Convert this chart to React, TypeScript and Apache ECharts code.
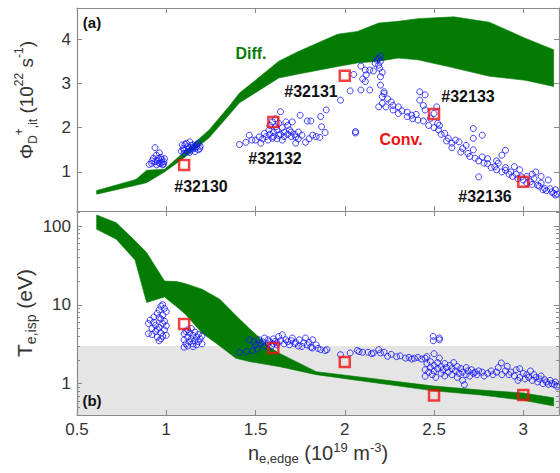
import React, { useEffect, useRef } from "react";
import * as echarts from "echarts";

const FONT = "Liberation Sans, Arial, Helvetica, sans-serif";
const GREEN = "#047c04";
const BLUE = "#1414ff";
const RED = "#ee1111";
const FRAME = "#8a8a8a";
const LABEL = "#333333";

const xTicks = [0.5, 1, 1.5, 2, 2.5, 3];
const xMin = 0.5;
const xMax = 3.2;
const aTicks = [1, 2, 3, 4];
const aMin = 0.12;
const aMax = 4.7;
const bTicks = [1, 10, 100];
const bMinor = [0.5, 0.6, 0.7, 0.8, 0.9, 2, 3, 4, 5, 6, 7, 8, 9, 20, 30, 40, 50, 60, 70, 80, 90, 150];
const bMin = 0.4;
const bMax = 155;
const grayBand = [0.4, 3];

// Panel (a): diffusive band
const aBandX = [0.61, 0.83, 0.89, 0.99, 1.1, 1.24, 1.35, 1.41, 1.5, 1.63, 1.74, 1.96, 2.07, 2.19, 2.3, 2.41, 2.61, 2.81, 3.01, 3.17];
const aBandUp = [0.58, 0.83, 1.04, 1.06, 1.45, 1.95, 2.47, 2.78, 3.07, 3.5, 3.72, 4.11, 4.17, 4.36, 4.4, 4.46, 4.5, 4.38, 4.02, 3.76];
const aBandLo = [0.5, 0.7, 0.76, 1.0, 1.32, 1.77, 2.28, 2.56, 2.79, 3.12, 3.21, 3.38, 3.46, 3.5, 3.57, 3.53, 3.35, 3.16, 3.07, 2.93];

// Panel (b): diffusive band
const bBandX = [0.61, 0.72, 0.825, 0.89, 0.99, 1.06, 1.11, 1.2, 1.3, 1.39, 1.47, 1.58, 1.63, 1.84, 2.5, 2.76, 3.0, 3.17];
const bBandUp = [138, 110, 65, 46, 20, 19.7, 18.5, 15.8, 11.8, 7.3, 4.9, 2.9, 2.45, 1.42, 0.93, 0.83, 0.76, 0.66];
const bBandLo = [91, 68, 37, 10.7, 12.6, 9.4, 7.5, 4.4, 3.0, 2.1, 1.9, 1.72, 1.65, 1.3, 0.81, 0.72, 0.615, 0.52];

// Panel (a): measured points
const a32130a = [[0.905,1.17],[0.918,1.19],[0.928,1.31],[0.937,1.23],[0.937,1.55],[0.946,1.16],[0.955,1.31],[0.961,1.43],[0.965,1.19],[0.974,1.28],[0.98,1.16],[0.987,1.23],[0.95,1.25],[0.96,1.2],[0.97,1.33],[0.99,1.3],[0.945,1.38],[0.92,1.25],[0.975,1.22],[0.985,1.18]];
const a32130b = [[1.09,1.61],[1.095,1.53],[1.1,1.42],[1.113,1.65],[1.12,1.46],[1.132,1.68],[1.14,1.49],[1.15,1.61],[1.16,1.46],[1.17,1.57],[1.18,1.65],[1.188,1.53],[1.1,1.5],[1.12,1.57],[1.14,1.6],[1.16,1.53],[1.18,1.5],[1.105,1.62],[1.125,1.52],[1.15,1.55],[1.17,1.62],[1.19,1.58],[1.13,1.44],[1.085,1.47]];
const a32132 = [[1.41,1.62],[1.446,1.67],[1.465,1.83],[1.48,1.72],[1.5,1.72],[1.52,1.79],[1.53,1.65],[1.55,1.87],[1.575,1.95],[1.595,1.76],[1.595,2.13],[1.614,2.02],[1.63,1.83],[1.64,2.36],[1.65,1.72],[1.67,2.13],[1.69,1.95],[1.706,2.13],[1.725,1.79],[1.725,1.65],[1.75,2.28],[1.76,1.83],[1.78,1.67],[1.79,2.15],[1.81,2.15],[1.82,1.83],[1.865,2.25],[1.87,2.02],[1.896,2.4],[1.89,1.89],[1.56,1.8],[1.58,1.85],[1.6,1.9],[1.6,1.8],[1.62,1.95],[1.62,1.75],[1.64,1.85],[1.66,1.9],[1.66,1.8],[1.68,1.85],[1.7,1.8],[1.7,1.9],[1.72,1.85],[1.74,1.75],[1.74,1.9],[1.58,2.05],[1.61,2.2],[1.63,2.1],[1.65,2.0],[1.57,1.72],[1.54,1.75],[1.68,2.05],[1.8,1.75],[1.84,1.8],[1.86,1.78]];
const a32131 = [[1.976,2.62],[2.03,2.83],[2.06,1.88],[2.09,2.85],[2.09,3.39],[2.115,3.04],[2.115,3.3],[2.12,3.19],[2.14,2.85],[2.14,3.3],[2.17,3.45],[2.19,3.56],[2.195,3.34],[2.19,3.41],[2.2,2.96],[2.21,2.7],[2.22,2.81],[2.19,2.47],[2.23,2.47],[2.2,3.5],[2.18,3.52],[2.2,3.62],[2.21,3.25],[2.2,3.15],[2.16,3.28],[2.05,3.2],[2.1,3.1],[2.06,1.91]];
const a32133 = [[2.21,2.55],[2.22,2.77],[2.26,2.58],[2.3,2.47],[2.3,2.32],[2.35,2.25],[2.375,2.28],[2.41,2.17],[2.42,2.81],[2.42,2.62],[2.45,2.74],[2.45,2.4],[2.48,2.21],[2.5,2.32],[2.515,2.47],[2.52,2.1],[2.525,1.95],[2.56,1.87],[2.58,1.76],[2.6,1.65],[2.64,1.68],[2.66,1.53],[2.69,1.42],[2.72,1.98],[2.72,1.76],[2.77,1.83],[2.27,2.4],[2.32,2.38],[2.38,2.2],[2.44,2.15],[2.47,2.05],[2.5,2.0],[2.53,2.05],[2.54,1.85],[2.57,1.7],[2.6,1.55],[2.62,1.72],[2.65,1.45],[2.68,1.6],[2.27,2.5],[2.24,2.65],[2.35,2.35],[2.4,2.3],[2.44,2.5]];
const a32136 = [[2.73,1.31],[2.77,1.34],[2.8,1.19],[2.84,1.12],[2.88,1.38],[2.9,1.49],[2.9,1.04],[2.93,1.0],[2.95,1.12],[2.99,0.89],[3.04,0.78],[3.07,1.0],[3.08,0.7],[3.12,0.63],[3.16,0.55],[3.18,0.48],[3.14,0.82],[2.75,0.89],[2.7,1.35],[2.72,1.5],[2.75,1.25],[2.78,1.2],[2.8,1.3],[2.82,1.1],[2.85,1.05],[2.86,1.2],[2.88,1.0],[2.9,1.1],[2.92,0.95],[2.94,0.9],[2.96,0.95],[2.97,0.85],[3.0,0.82],[3.02,0.9],[3.02,0.75],[3.05,0.72],[3.06,0.85],[3.09,0.68],[3.1,0.75],[3.11,0.6],[3.13,0.58],[3.15,0.62],[3.17,0.52],[3.19,0.5],[3.18,0.6],[3.1,0.9],[3.05,0.95],[2.98,1.05],[2.85,1.25]];
const aConv = [[1.1,1.16],[1.6,2.13],[2.0,3.17],[2.5,2.31],[3.0,0.78]];

// Panel (b): measured points
const b32130a = [[0.9,5.8],[0.9,4.3],[0.91,6.4],[0.92,5.0],[0.92,4.2],[0.93,6.0],[0.93,7.0],[0.94,4.6],[0.94,5.5],[0.95,7.8],[0.95,3.9],[0.96,8.6],[0.96,5.2],[0.96,3.5],[0.97,9.6],[0.97,6.6],[0.97,4.4],[0.97,3.7],[0.98,10.0],[0.98,7.4],[0.98,5.8],[0.98,4.0],[0.99,9.0],[0.99,6.2],[0.99,4.8],[1.0,8.2],[1.0,5.4],[1.0,4.1],[0.95,4.9],[0.96,6.9]];
const b32130b = [[1.1,2.9],[1.1,3.6],[1.1,4.3],[1.11,3.2],[1.11,4.6],[1.12,3.9],[1.12,3.0],[1.13,4.4],[1.13,3.4],[1.14,3.7],[1.14,5.0],[1.15,3.2],[1.15,4.1],[1.16,3.5],[1.16,4.5],[1.17,3.1],[1.17,3.9],[1.18,3.4],[1.18,4.2],[1.19,3.7],[1.2,3.2],[1.2,4.0],[1.12,4.8],[1.15,2.95]];
const b32132 = [[1.41,2.49],[1.45,2.56],[1.465,3.6],[1.483,2.62],[1.49,3.4],[1.51,2.75],[1.52,3.6],[1.53,3.2],[1.55,3.79],[1.55,3.0],[1.57,3.2],[1.57,3.6],[1.58,3.4],[1.6,3.7],[1.61,3.43],[1.62,3.1],[1.63,3.97],[1.64,3.5],[1.65,4.17],[1.66,3.2],[1.67,3.6],[1.68,3.4],[1.69,3.11],[1.7,3.5],[1.706,3.79],[1.72,3.2],[1.725,3.34],[1.74,3.0],[1.745,3.6],[1.76,2.96],[1.77,3.3],[1.78,3.79],[1.79,3.1],[1.8,3.34],[1.81,2.9],[1.818,2.83],[1.82,3.6],[1.84,3.1],[1.85,2.8],[1.865,2.7],[1.89,2.62],[1.9,2.7],[1.5,3.1],[1.54,3.4],[1.59,3.0],[1.6,3.2],[1.62,3.3]];
const b32131 = [[1.976,2.33],[2.03,2.45],[2.07,2.64],[2.1,2.5],[2.13,2.5],[2.16,2.45],[2.19,2.7],[2.2,2.45],[2.22,2.5],[2.24,2.22],[2.26,2.35],[2.29,2.2],[2.31,2.25],[2.34,2.11],[2.36,2.15],[2.375,2.05],[2.39,2.1],[2.41,2.15],[2.43,2.05],[2.45,2.1],[2.08,2.55],[2.15,2.4]];
const b32133 = [[2.495,3.97],[2.495,3.5],[2.53,3.6],[2.53,3.79],[2.45,1.24],[2.45,1.5],[2.46,1.8],[2.46,2.2],[2.47,1.4],[2.48,1.6],[2.48,1.9],[2.49,1.3],[2.5,2.4],[2.5,1.7],[2.5,1.45],[2.51,1.2],[2.52,1.55],[2.52,1.85],[2.53,2.1],[2.54,1.35],[2.54,1.65],[2.55,1.5],[2.56,1.8],[2.56,1.25],[2.57,1.6],[2.58,1.4],[2.59,1.7],[2.6,1.3],[2.6,1.55],[2.61,1.85],[2.62,1.45],[2.63,1.2],[2.63,1.65],[2.64,1.35],[2.65,1.55],[2.66,1.1],[2.66,1.4],[2.67,0.97],[2.68,1.3],[2.68,1.6],[2.69,1.45],[2.7,1.25],[2.71,1.5],[2.72,1.35],[2.73,1.4],[2.74,1.3],[2.75,1.45]];
const b32136 = [[2.77,1.4],[2.78,1.25],[2.8,1.35],[2.82,1.45],[2.83,1.3],[2.85,1.4],[2.86,1.6],[2.877,1.83],[2.88,1.3],[2.9,1.45],[2.91,1.66],[2.92,1.3],[2.93,1.4],[2.95,1.25],[2.96,1.5],[2.98,1.55],[2.98,1.2],[3.0,1.35],[3.01,1.15],[3.02,1.3],[3.03,1.2],[3.05,1.1],[3.06,1.3],[3.07,1.2],[3.08,1.05],[3.09,1.15],[3.1,1.25],[3.11,1.0],[3.12,1.12],[3.13,1.05],[3.14,0.98],[3.15,1.1],[3.16,1.0],[3.175,0.97],[3.18,1.05],[3.19,0.92],[3.04,1.45],[2.97,1.1]];
const bConv = [[1.1,5.7],[1.6,2.83],[2.0,1.88],[2.5,0.705],[3.0,0.72]];

const shotLabels = ["#32130", "#32132", "#32131", "#32133", "#32136"];
const shotPos = [[201, 186], [275, 158], [311, 91], [468, 96], [485, 196]];

function band(xs: number[], up: number[], lo: number[], yi: number, z: number) {
  return {
    type: "custom",
    xAxisIndex: yi === 0 ? 0 : 2,
    yAxisIndex: yi,
    z,
    silent: true,
    clip: true,
    data: [[xs[0], lo[0]]],
    renderItem: (_p: any, api: any) => {
      const pts: number[][] = [];
      for (let i = 0; i < xs.length; i++) pts.push(api.coord([xs[i], up[i]]));
      for (let i = xs.length - 1; i >= 0; i--) pts.push(api.coord([xs[i], lo[i]]));
      return { type: "polygon", shape: { points: pts }, style: { fill: GREEN, stroke: GREEN, lineWidth: 0.6 } };
    },
  };
}

function circles(data: number[][], xi: number, yi: number) {
  return {
    type: "scatter",
    xAxisIndex: xi,
    yAxisIndex: yi,
    z: 3,
    data,
    symbol: "circle",
    symbolSize: 6,
    itemStyle: { color: "rgba(0,0,0,0)", borderColor: BLUE, borderWidth: 1 },
    silent: true,
  };
}

function squares(data: number[][], xi: number, yi: number) {
  return {
    type: "scatter",
    xAxisIndex: xi,
    yAxisIndex: yi,
    z: 4,
    data,
    symbol: "rect",
    symbolSize: 10,
    itemStyle: { color: "rgba(0,0,0,0)", borderColor: RED, borderWidth: 2.5 },
    silent: true,
  };
}

const lineStyle = { color: FRAME, width: 1.2 };
const tickStyle = { inside: true, length: 5, lineStyle: { color: FRAME, width: 1 } };
const labelStyle = { color: LABEL, fontSize: 17, fontFamily: FONT };

function xAxis(grid: number, pos: string, showLabels: boolean) {
  return {
    type: "value",
    gridIndex: grid,
    position: pos,
    min: xMin,
    max: xMax,
    splitLine: { show: false },
    axisLine: { show: true, lineStyle },
    axisTick: { ...tickStyle, customValues: xTicks },
    axisLabel: showLabels
      ? { ...labelStyle, margin: 6, customValues: xTicks }
      : { show: false },
  };
}

function yA(pos: string, show: boolean) {
  return {
    type: "value",
    gridIndex: 0,
    position: pos,
    min: aMin,
    max: aMax,
    splitLine: { show: false },
    axisLine: { show: true, lineStyle },
    axisTick: { ...tickStyle, customValues: aTicks },
    axisLabel: show ? { ...labelStyle, margin: 6, customValues: aTicks } : { show: false },
  };
}

function yB(pos: string, show: boolean, minor: boolean) {
  return {
    type: "log",
    logBase: 10,
    gridIndex: 1,
    position: pos,
    min: bMin,
    max: bMax,
    splitLine: { show: false },
    axisLine: { show: !minor, lineStyle },
    axisTick: minor
      ? { inside: true, length: 3, lineStyle: { color: FRAME, width: 1 }, customValues: bMinor }
      : { ...tickStyle, customValues: bTicks },
    axisLabel: show ? { ...labelStyle, margin: 6, customValues: bTicks } : { show: false },
  };
}

const rich = (big: number, small: number, lh: number) => ({
  b: { fontSize: big, fontFamily: FONT, fill: LABEL, color: LABEL, lineHeight: lh, verticalAlign: "middle" },
  sub: { fontSize: small, fontFamily: FONT, fill: LABEL, color: LABEL, lineHeight: small, verticalAlign: "bottom" },
  sup: { fontSize: small, fontFamily: FONT, fill: LABEL, color: LABEL, lineHeight: small, verticalAlign: "top" },
});

function txt(text: string, x: number, y: number, color: string, size: number, bold = true) {
  return {
    type: "text",
    x,
    y,
    z: 10,
    silent: true,
    style: {
      text,
      fill: color,
      fontSize: size,
      fontWeight: bold ? "bold" : "normal",
      fontFamily: FONT,
      align: "center",
      verticalAlign: "middle",
    },
  };
}

const option: any = {
  animation: false,
  backgroundColor: "#ffffff",
  grid: [
    { left: 77, top: 8, width: 482, height: 203 },
    { left: 77, top: 211, width: 482, height: 204 },
  ],
  xAxis: [xAxis(0, "bottom", false), xAxis(0, "top", false), xAxis(1, "bottom", true), xAxis(1, "top", false)],
  yAxis: [yA("left", true), yA("right", false), yB("left", true, false), yB("right", false, false), yB("left", false, true), yB("right", false, true)],
  series: [
    {
      type: "custom",
      xAxisIndex: 2,
      yAxisIndex: 2,
      z: 0,
      silent: true,
      clip: true,
      data: [[xMin, grayBand[0]]],
      renderItem: (_p: any, api: any) => {
        const a = api.coord([xMin, grayBand[1]]);
        const b = api.coord([xMax, grayBand[0]]);
        return { type: "rect", shape: { x: a[0], y: a[1], width: b[0] - a[0], height: b[1] - a[1] }, style: { fill: "#e5e5e5" } };
      },
    },
    band(aBandX, aBandUp, aBandLo, 0, 1),
    band(bBandX, bBandUp, bBandLo, 2, 1),
    ...[a32130a, a32130b, a32132, a32131, a32133, a32136].map((d) => circles(d, 0, 0)),
    ...[b32130a, b32130b, b32132, b32131, b32133, b32136].map((d) => circles(d, 2, 2)),
    squares(aConv, 0, 0),
    squares(bConv, 2, 2),
  ],
  graphic: [
    txt("(a)", 92, 22, "#111", 15),
    txt("(b)", 92, 400, "#111", 15),
    txt("Diff.", 251, 53, GREEN, 16),
    txt("Conv.", 401, 139, RED, 16),
    ...shotLabels.map((s, i) => txt(s, shotPos[i][0], shotPos[i][1], "#111", 16)),
    {
      type: "text",
      x: 26,
      y: 100,
      rotation: Math.PI / 2,
      z: 10,
      silent: true,
      style: {
        text: "{b|Φ}{sub|D}{sup|+}{sub|,it}{b| (10}{sup|22}{b| s}{sup|-1}{b|)}",
        rich: rich(19, 12, 26),
        align: "center",
        verticalAlign: "middle",
      },
    },
    {
      type: "text",
      x: 24,
      y: 313,
      rotation: Math.PI / 2,
      z: 10,
      silent: true,
      style: {
        text: "{b|T}{sub|e,isp}{b| (eV)}",
        rich: rich(21, 14, 28),
        align: "center",
        verticalAlign: "middle",
      },
    },
    {
      type: "text",
      x: 318,
      y: 453,
      z: 10,
      silent: true,
      style: {
        text: "{b|n}{sub|e,edge}{b| (10}{sup|19}{b| m}{sup|-3}{b|)}",
        rich: rich(20, 13, 24),
        align: "center",
        verticalAlign: "middle",
      },
    },
  ],
};

export default function App() {
  const ref = useRef<HTMLDivElement>(null);
  useEffect(() => {
    document.body.style.margin = "0";
    const chart = echarts.init(ref.current as HTMLDivElement, null, { renderer: "svg" });
    chart.setOption(option);
    return () => chart.dispose();
  }, []);
  return <div ref={ref} style={{ width: 560, height: 473 }} />;
}
